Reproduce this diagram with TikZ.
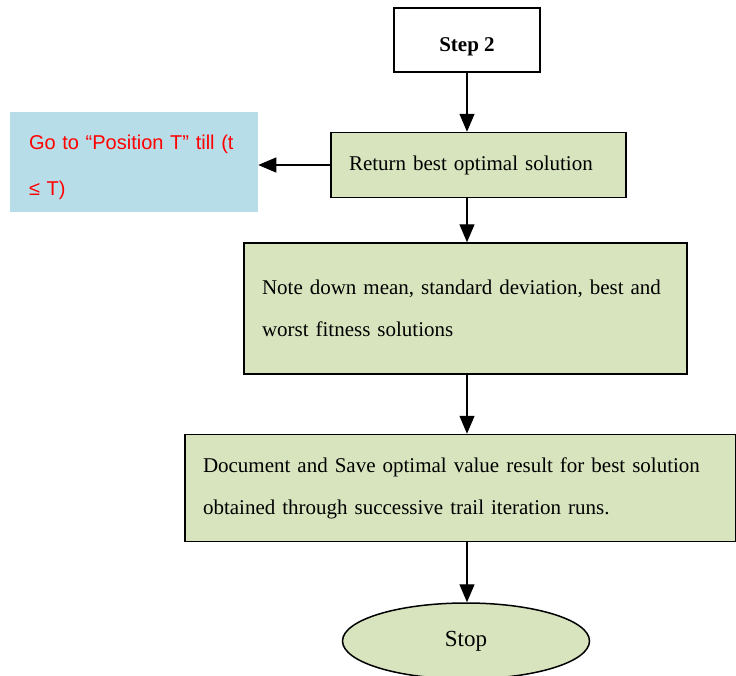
\documentclass[tikz,border=0pt]{standalone}
\usepackage{fontspec}
\setmainfont{Liberation Serif}
\newfontfamily\notefont{Liberation Sans}
\usetikzlibrary{arrows.meta,shapes.geometric,positioning}
\definecolor{boxgreen}{HTML}{D7E4BD}
\definecolor{noteblue}{HTML}{B7DDE8}
\tikzstyle{block} = [rectangle, draw, line width=1.5pt, fill=boxgreen, 
    inner xsep=18pt, align=left]
\tikzstyle{line} = [draw, line width=1.3pt, -{Triangle[width=15pt,length=18pt]}]

\begin{document}
\begin{tikzpicture}[font=\fontsize{21}{42}\selectfont]
    \useasboundingbox (0,0) rectangle (736pt,-675pt);
    % Place nodes
    \node [block, fill=white, align=center, minimum width=146pt, minimum height=64pt, text height=22pt, text depth=0pt, font=\fontsize{21}{42}\selectfont\bfseries] (step) at (467pt,-40pt) {Step 2};
    \node [block, text width=259pt, minimum height=65pt, below=59pt of step, xshift=11.5pt] (ret) {Return best optimal solution};
    \node [block, text width=407pt, minimum height=131pt, below=44pt of ret, xshift=-13pt] (note) {Note down mean, standard deviation, best and\\ worst fitness solutions};
    \node [block, text width=515pt, minimum height=107pt, below=59pt of note, xshift=-5pt] (doc) {Document and Save optimal value result for best solution\\ obtained through successive trail iteration runs.};
    \node [ellipse, draw, line width=1.5pt, fill=boxgreen, minimum width=247pt, minimum height=76pt, below=60pt of doc, xshift=5.5pt, font=\fontsize{23}{42}\selectfont] (stop) {Stop};
    \node [rectangle, fill=noteblue, text=red, align=left, inner xsep=19pt, text width=210pt, minimum height=100pt, text height=15pt, text depth=40pt, font=\notefont\fontsize{20}{46}\selectfont, left=72pt of ret, yshift=3.5pt] (goto) {Go to “Position T” till (t\\ ≤ T)};
    % Draw edges
    \path [line] (step.south) -- (step.south |- ret.north);
    \path [line] (ret.west) -- (ret.west -| goto.east);
    \path [line] (ret.south -| step.south) -- (note.north -| step.south);
    \path [line] (note.south -| step.south) -- (doc.north -| step.south);
    \path [line] (doc.south -| step.south) -- (stop.north -| step.south);
\end{tikzpicture}
\end{document}
